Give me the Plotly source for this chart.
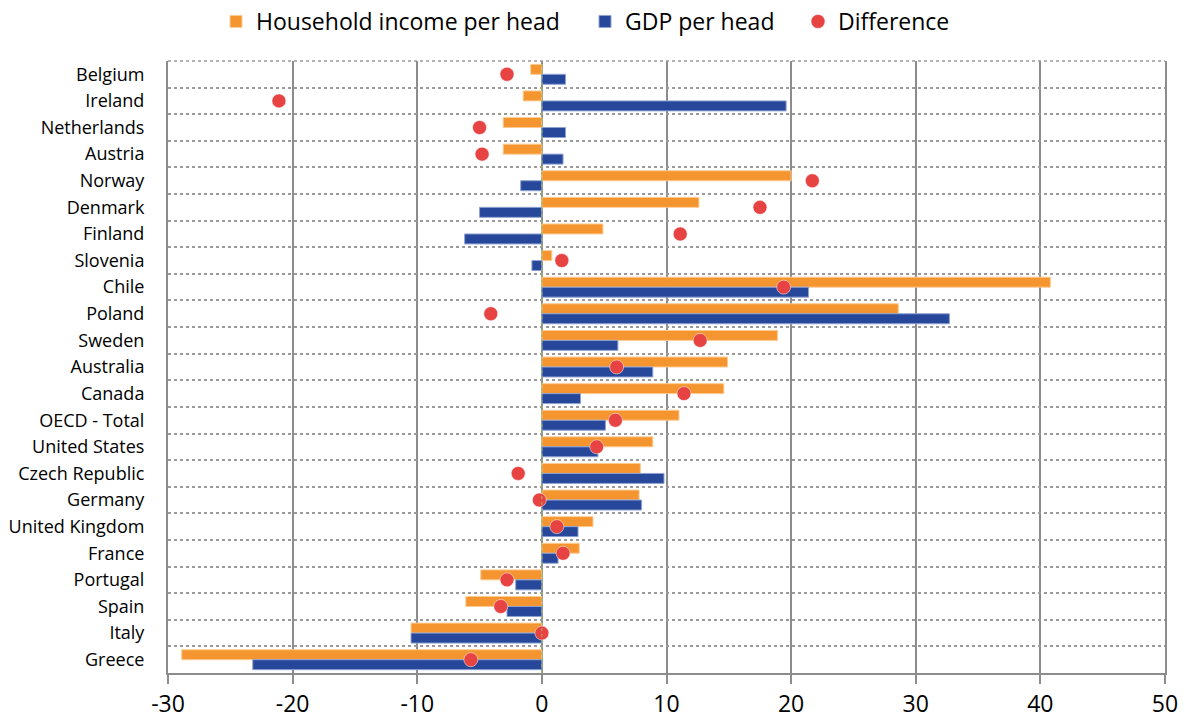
import plotly.graph_objects as go

# Change in household income vs GDP per head, by country (percent)
countries = [
    "Belgium", "Ireland", "Netherlands", "Austria", "Norway", "Denmark",
    "Finland", "Slovenia", "Chile", "Poland", "Sweden", "Australia",
    "Canada", "OECD - Total", "United States", "Czech Republic", "Germany",
    "United Kingdom", "France", "Portugal", "Spain", "Italy", "Greece",
]
household_income = [
    -0.9, -1.5, -3.1, -3.1, 20.0, 12.6, 4.9, 0.8, 40.8, 28.6, 18.9, 14.9,
    14.6, 11.0, 8.9, 7.9, 7.8, 4.1, 3.0, -4.9, -6.1, -10.5, -28.9,
]
gdp = [
    1.9, 19.6, 1.9, 1.7, -1.7, -5.0, -6.2, -0.8, 21.4, 32.7, 6.1, 8.9,
    3.1, 5.1, 4.5, 9.8, 8.0, 2.9, 1.3, -2.1, -2.8, -10.5, -23.2,
]
difference = [
    -2.8, -21.1, -5.0, -4.8, 21.7, 17.5, 11.1, 1.6, 19.4, -4.1, 12.7, 6.0,
    11.4, 5.9, 4.4, -1.9, -0.2, 1.2, 1.7, -2.8, -3.3, 0.0, -5.7,
]
x_ticks = [-30, -20, -10, 0, 10, 20, 30, 40, 50]

ORANGE = "#F5952F"
BLUE = "#27479A"
RED = "#E84343"
GRID = "#8C8C8C"
FONT = "Open Sans"

fig = go.Figure()
fig.add_trace(go.Bar(
    name="Household income per head", y=countries, x=household_income,
    orientation="h", legend="legend",
    marker=dict(color=ORANGE, line=dict(color="#FBCB94", width=1)),
))
fig.add_trace(go.Bar(
    name="GDP per head", y=countries, x=gdp,
    orientation="h", legend="legend2",
    marker=dict(color=BLUE, line=dict(color="#8FA2D2", width=1)),
))
fig.add_trace(go.Scatter(
    name="Difference", y=countries, x=difference, mode="markers",
    legend="legend3",
    marker=dict(color=RED, size=14, line=dict(color="white", width=0.5)),
))


def legend_box(left_px):
    return dict(
        orientation="h", xref="container", yref="container",
        x=left_px / 1185, xanchor="left", y=1.0, yanchor="top",
        font=dict(size=23, family=FONT, color="black"),
        bgcolor="rgba(0,0,0,0)",
    )


fig.update_layout(
    width=1185, height=721,
    margin=dict(l=168, r=20, t=61, b=48, autoexpand=False),
    paper_bgcolor="white", plot_bgcolor="white",
    barmode="group", bargap=0.25, bargroupgap=0,
    font=dict(family=FONT, color="black"),
    showlegend=True,
    legend=legend_box(216),
    legend2=legend_box(585),
    legend3=legend_box(798),
    xaxis=dict(
        range=[-30, 50], tickvals=x_ticks, ticktext=[str(v) for v in x_ticks],
        showgrid=True, gridcolor=GRID, gridwidth=2,
        zeroline=False, showline=True, linecolor=GRID, linewidth=2,
        ticks="outside", ticklen=9, tickwidth=2, tickcolor=GRID,
        tickfont=dict(size=23, family=FONT, color="black"),
        layer="above traces", automargin=False, fixedrange=True,
    ),
    yaxis=dict(
        categoryorder="array", categoryarray=countries,
        range=[len(countries) - 0.5, -0.5],
        tickson="boundaries", showgrid=True, gridcolor="#9A9A9A",
        gridwidth=1.5, griddash="dot", ticks="", ticklabelstandoff=18,
        showline=True, linecolor=GRID, linewidth=2, mirror=True,
        zeroline=False, tickfont=dict(size=18, family=FONT, color="black"),
        automargin=False, fixedrange=True,
    ),
    shapes=[
        # dotted top border
        dict(type="line", xref="paper", yref="paper", x0=0, x1=1, y0=1, y1=1,
             line=dict(color="#9A9A9A", width=1.5, dash="dot")),
        # dotted zero reference line
        dict(type="line", xref="x", yref="paper", x0=0, x1=0, y0=0, y1=1,
             line=dict(color="#9BBB59", width=1, dash="dot"), layer="above"),
    ],
)

fig.write_html("out.html")
